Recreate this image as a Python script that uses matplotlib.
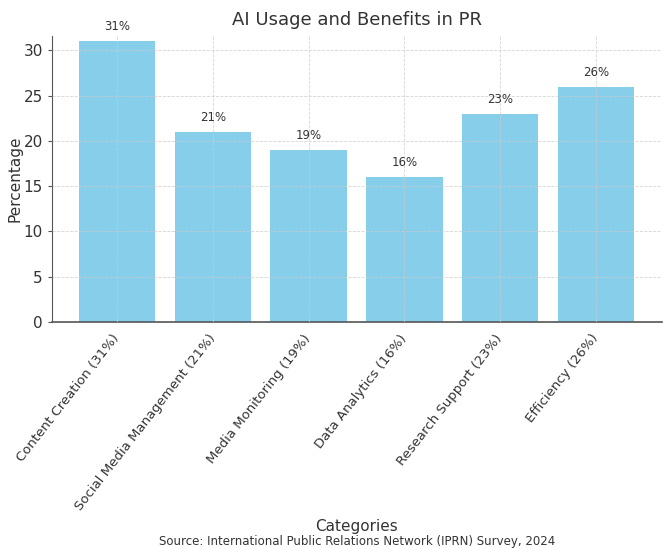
import matplotlib
matplotlib.use("Agg")
import matplotlib.pyplot as plt

# Data
categories = ["Content Creation (31%)", "Social Media Management (21%)",
              "Media Monitoring (19%)", "Data Analytics (16%)",
              "Research Support (23%)", "Efficiency (26%)"]
values = [31, 21, 19, 16, 23, 26]
value_labels = ["31%", "21%", "19%", "16%", "23%", "26%"]

plt.rcParams["font.family"] = "DejaVu Sans"
text_color = "#333333"

fig = plt.figure(figsize=(6.7, 5.48), dpi=100)
ax = fig.add_axes([52 / 670, 1 - 322 / 548, 610 / 670, 286 / 548])

x = range(len(categories))
bars = ax.bar(x, values, width=0.8, color="#87CEEB", zorder=1)

for bar, lbl in zip(bars, value_labels):
    ax.text(bar.get_x() + bar.get_width() / 2, bar.get_height() + 0.9, lbl,
            ha="center", va="bottom", fontsize=8.5, color=text_color)

ax.set_xlim(-0.68, 5.69)
ax.set_ylim(0, 31.6)
ax.set_yticks([0, 5, 10, 15, 20, 25, 30])
ax.set_xticks(list(x))
ax.set_xticklabels(categories, rotation=52, ha="right", va="center",
                   rotation_mode="anchor", fontsize=9.5, color=text_color)
ax.tick_params(axis="y", labelsize=11, labelcolor=text_color, length=3, color="#555555")
ax.tick_params(axis="x", length=0, pad=10)

ax.grid(True, linestyle="--", linewidth=0.6, color="#cccccc", alpha=0.8, zorder=2)
ax.set_axisbelow(False)
ax.spines["top"].set_visible(False)
ax.spines["right"].set_visible(False)
ax.spines["left"].set_color("#555555")
ax.spines["bottom"].set_color("#555555")
ax.spines["bottom"].set_linewidth(1.2)

ax.set_ylabel("Percentage", fontsize=11, color=text_color)
ax.yaxis.set_label_coords(-29 / 610, 0.5)
ax.set_title("AI Usage and Benefits in PR", fontsize=13, color=text_color, pad=8)

fig.text(357 / 670, 1 - 527 / 548, "Categories", ha="center", va="center",
         fontsize=11, color=text_color)
fig.text(357 / 670, 1 - 541 / 548, "Source: International Public Relations Network (IPRN) Survey, 2024",
         ha="center", va="center", fontsize=8.5, color=text_color)

fig.savefig("out.png", dpi=100)
